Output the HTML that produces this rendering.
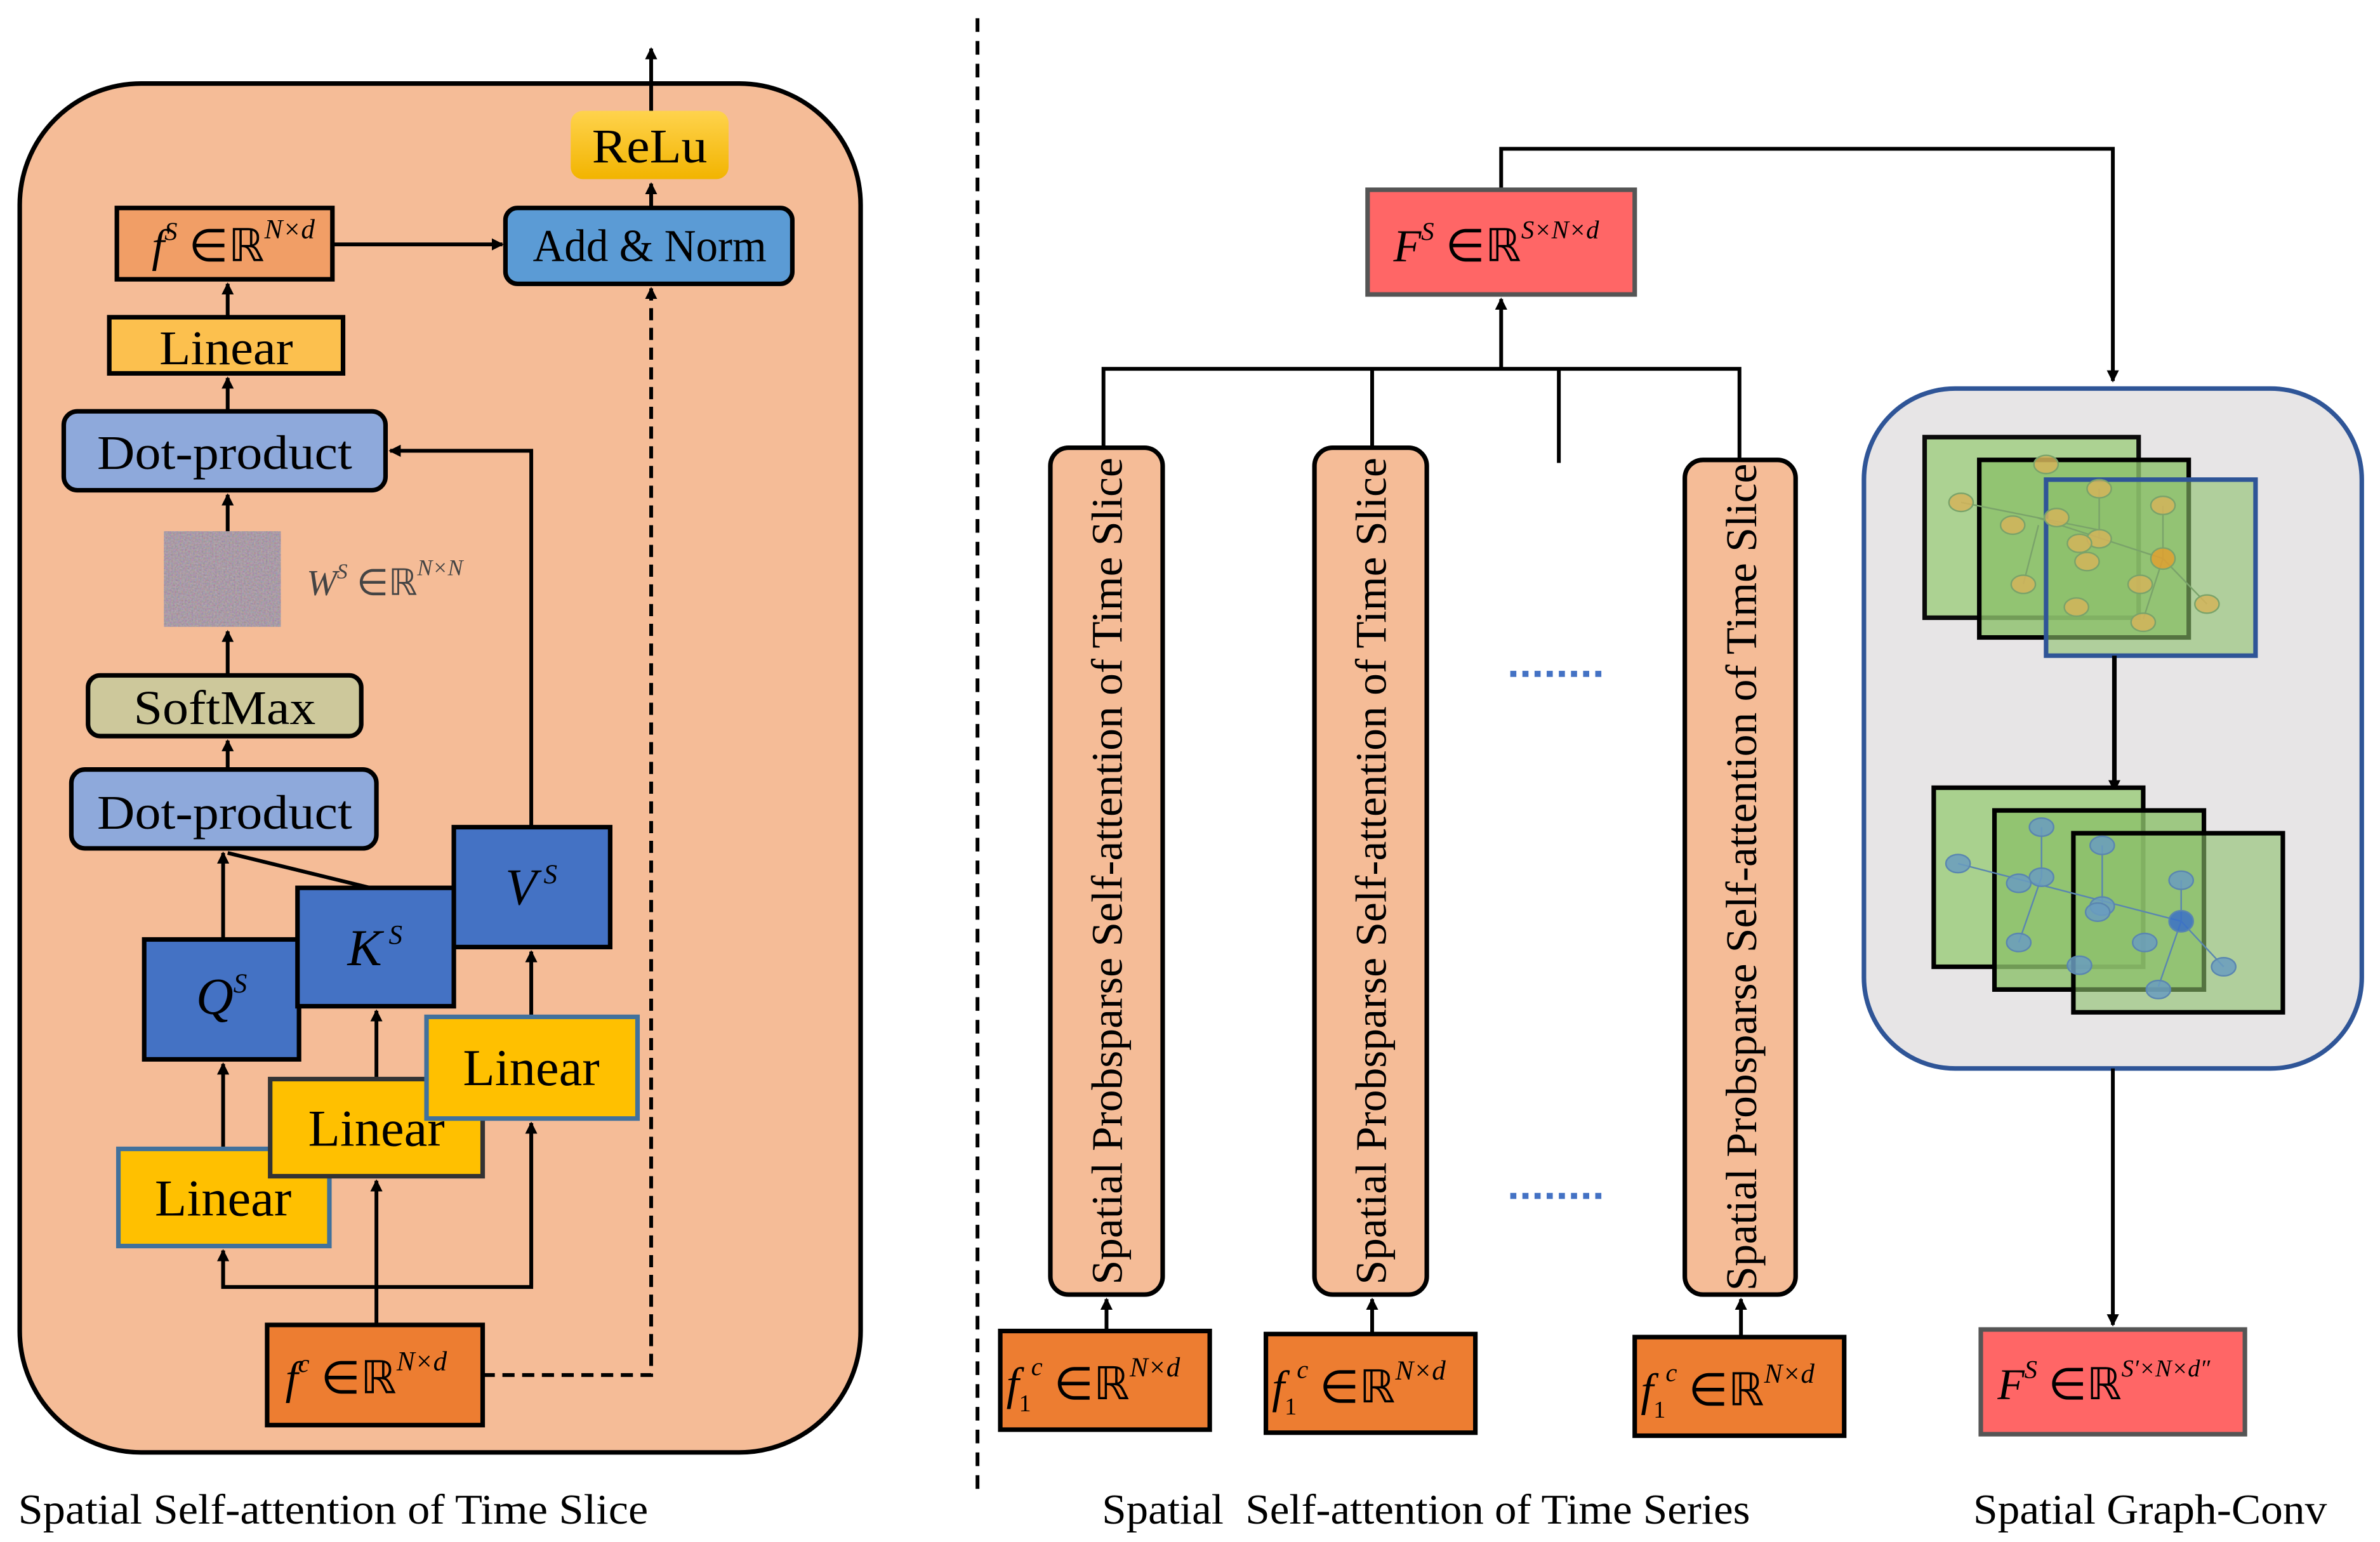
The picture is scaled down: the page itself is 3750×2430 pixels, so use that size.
<!DOCTYPE html>
<html><head><meta charset="utf-8"><style>
html,body{margin:0;padding:0;background:#fff;}
svg{display:block;}
text{font-family:"Liberation Serif","Times New Roman",serif;}
.m{font-style:italic;}
</style></head><body>
<svg width="3750" height="2430" viewBox="0 0 1568 1016" xmlns="http://www.w3.org/2000/svg">
<defs>
<marker id="a" markerWidth="8" markerHeight="8" refX="7" refY="4" orient="auto" markerUnits="userSpaceOnUse"><path d="M0,0 L8,4 L0,8 z" fill="#000"/></marker>
<filter id="noise" x="0" y="0" width="100%" height="100%"><feTurbulence type="fractalNoise" baseFrequency="0.9" numOctaves="2" seed="3"/><feColorMatrix type="matrix" values="1 0 0 0 0  0 1 0 0 0  0 0 1 0 0  0 0 0 0 1"/></filter>
<linearGradient id="g1" x1="0" y1="0" x2="0" y2="1"><stop offset="0" stop-color="#FFD34D"/><stop offset="1" stop-color="#F2B400"/></linearGradient>
</defs>
<rect width="1568" height="1016" fill="#fff"/>
<g lengthAdjust="spacingAndGlyphs">
<!-- Left panel -->
<rect x="13" y="55" width="554" height="902" rx="80" fill="#F5BC97" stroke="#000" stroke-width="3"/>
<line x1="429" y1="73" x2="429" y2="32" stroke="#000" stroke-width="2.5" marker-end="url(#a)"/>
<rect x="376" y="73" width="104" height="45" rx="8" fill="url(#g1)"/>
<text x="428" y="107" font-size="32" text-anchor="middle" textLength="76" lengthAdjust="spacingAndGlyphs">ReLu</text>
<line x1="429" y1="137" x2="429" y2="121" stroke="#000" stroke-width="2.5" marker-end="url(#a)"/>
<rect x="333" y="137" width="189" height="50" rx="8" fill="#5B9BD5" stroke="#000" stroke-width="3"/>
<text x="428" y="172" font-size="30" text-anchor="middle" textLength="154" lengthAdjust="spacingAndGlyphs">Add &amp; Norm</text>
<rect x="77" y="137" width="142" height="47" fill="#F19E66" stroke="#000" stroke-width="3"/>
<text x="100" y="172" font-size="30" class="m">f<tspan dy="-14" font-size="17">S</tspan><tspan dy="14" font-style="normal"> ∈ℝ</tspan><tspan dy="-15" font-size="18">N×d</tspan></text>
<line x1="219" y1="161" x2="331" y2="161" stroke="#000" stroke-width="2.5" marker-end="url(#a)"/>
<rect x="72" y="209" width="154" height="37" fill="#FCC04E" stroke="#000" stroke-width="3"/>
<text x="149" y="240" font-size="32" text-anchor="middle" textLength="88" lengthAdjust="spacingAndGlyphs">Linear</text>
<line x1="150" y1="209" x2="150" y2="187" stroke="#000" stroke-width="2.5" marker-end="url(#a)"/>
<rect x="42" y="271" width="212" height="52" rx="9" fill="#8EA9DB" stroke="#000" stroke-width="3"/>
<text x="148" y="309" font-size="32" text-anchor="middle" textLength="168" lengthAdjust="spacingAndGlyphs">Dot-product</text>
<line x1="150" y1="271" x2="150" y2="249" stroke="#000" stroke-width="2.5" marker-end="url(#a)"/>
<rect x="108" y="350" width="77" height="63" fill="#A08A9C"/>
<rect x="108" y="350" width="77" height="63" filter="url(#noise)" opacity="0.35"/>
<text x="202" y="392" font-size="24" fill="#444" class="m">W<tspan dy="-11" font-size="14">S</tspan><tspan dy="11" font-style="normal"> ∈ℝ</tspan><tspan dy="-13" font-size="15">N×N</tspan></text>
<line x1="150" y1="350" x2="150" y2="326" stroke="#000" stroke-width="2.5" marker-end="url(#a)"/>
<rect x="58" y="445" width="180" height="40" rx="8" fill="#CDC89B" stroke="#000" stroke-width="3"/>
<text x="148" y="477" font-size="32" text-anchor="middle" textLength="120" lengthAdjust="spacingAndGlyphs">SoftMax</text>
<line x1="150" y1="445" x2="150" y2="416" stroke="#000" stroke-width="2.5" marker-end="url(#a)"/>
<line x1="150" y1="507" x2="150" y2="488" stroke="#000" stroke-width="2.5" marker-end="url(#a)"/>
<rect x="47" y="507" width="201" height="52" rx="9" fill="#8EA9DB" stroke="#000" stroke-width="3"/>
<text x="148" y="546" font-size="32" text-anchor="middle" textLength="168" lengthAdjust="spacingAndGlyphs">Dot-product</text>
<polyline points="350,545 350,297 257,297" fill="none" stroke="#000" stroke-width="2.5" marker-end="url(#a)"/>
<line x1="147" y1="619" x2="147" y2="562" stroke="#000" stroke-width="2.5" marker-end="url(#a)"/>
<line x1="248" y1="586" x2="150" y2="562" stroke="#000" stroke-width="2.5"/>
<rect x="95" y="619" width="102" height="79" fill="#4472C4" stroke="#000" stroke-width="3"/>
<text x="146" y="668" font-size="34" class="m" text-anchor="middle">Q<tspan dy="-14" font-size="18">S</tspan></text>
<rect x="196" y="585" width="103" height="78" fill="#4472C4" stroke="#000" stroke-width="3"/>
<text x="247" y="636" font-size="34" class="m" text-anchor="middle">K<tspan dy="-14" font-size="18"> S</tspan></text>
<rect x="299" y="545" width="103" height="79" fill="#4472C4" stroke="#000" stroke-width="3"/>
<text x="350" y="596" font-size="34" class="m" text-anchor="middle">V<tspan dy="-14" font-size="18"> S</tspan></text>
<line x1="147" y1="757" x2="147" y2="701" stroke="#000" stroke-width="2.5" marker-end="url(#a)"/>
<line x1="248" y1="711" x2="248" y2="666" stroke="#000" stroke-width="2.5" marker-end="url(#a)"/>
<line x1="350" y1="670" x2="350" y2="627" stroke="#000" stroke-width="2.5" marker-end="url(#a)"/>
<rect x="78" y="757" width="139" height="64" fill="#FFC000" stroke="#41719C" stroke-width="3"/>
<text x="147" y="801" font-size="34" text-anchor="middle" textLength="90" lengthAdjust="spacingAndGlyphs">Linear</text>
<rect x="178" y="711" width="140" height="64" fill="#FFC000" stroke="#333" stroke-width="3"/>
<text x="248" y="755" font-size="34" text-anchor="middle" textLength="90" lengthAdjust="spacingAndGlyphs">Linear</text>
<rect x="281" y="670" width="139" height="67" fill="#FFC000" stroke="#41719C" stroke-width="3"/>
<text x="350" y="715" font-size="34" text-anchor="middle" textLength="90" lengthAdjust="spacingAndGlyphs">Linear</text>
<polyline points="147,824 147,848 350,848 350,740" fill="none" stroke="#000" stroke-width="2.5"/>
<line x1="147" y1="848" x2="147" y2="824" stroke="#000" stroke-width="2.5" marker-end="url(#a)"/>
<line x1="350" y1="848" x2="350" y2="740" stroke="#000" stroke-width="2.5" marker-end="url(#a)"/>
<line x1="248" y1="873" x2="248" y2="778" stroke="#000" stroke-width="2.5" marker-end="url(#a)"/>
<rect x="176" y="873" width="142" height="66" fill="#ED7D31" stroke="#000" stroke-width="3"/>
<text x="188" y="918" font-size="30" class="m">f<tspan dy="-14" font-size="17">c</tspan><tspan dy="14" font-style="normal"> ∈ℝ</tspan><tspan dy="-15" font-size="18">N×d</tspan></text>
<polyline points="318,906 429,906 429,190" fill="none" stroke="#000" stroke-width="2.5" stroke-dasharray="8,5" marker-end="url(#a)"/>
<!-- divider -->
<line x1="644" y1="12" x2="644" y2="985" stroke="#000" stroke-width="2.5" stroke-dasharray="9,6"/>
<!-- Right -->
<polyline points="989,125 989,98 1392,98 1392,251" fill="none" stroke="#000" stroke-width="2.5" marker-end="url(#a)"/>
<rect x="901" y="125" width="176" height="69" fill="#FF6666" stroke="#555" stroke-width="3"/>
<text x="918" y="172" font-size="30" class="m">F<tspan dy="-14" font-size="17">S</tspan><tspan dy="14" font-style="normal"> ∈ℝ</tspan><tspan dy="-15" font-size="17">S×N×d</tspan></text>
<polyline points="727,295 727,243 1146,243 1146,303" fill="none" stroke="#000" stroke-width="2.5"/>
<line x1="904" y1="243" x2="904" y2="295" stroke="#000" stroke-width="2.5"/>
<line x1="1027" y1="243" x2="1027" y2="305" stroke="#000" stroke-width="2.5"/>
<line x1="989" y1="243" x2="989" y2="197" stroke="#000" stroke-width="2.5" marker-end="url(#a)"/>
<g stroke="#000" stroke-width="3" fill="#F5BC97">
<rect x="692" y="295" width="74" height="558" rx="12"/>
<rect x="866" y="295" width="74" height="558" rx="12"/>
<rect x="1110" y="303" width="73" height="550" rx="12"/>
</g>
<g font-size="29">
<text transform="translate(739,574) rotate(-90)" text-anchor="middle" textLength="545" lengthAdjust="spacingAndGlyphs">Spatial Probsparse Self-attention of Time Slice</text>
<text transform="translate(913,574) rotate(-90)" text-anchor="middle" textLength="545" lengthAdjust="spacingAndGlyphs">Spatial Probsparse Self-attention of Time Slice</text>
<text transform="translate(1157,578) rotate(-90)" text-anchor="middle" textLength="545" lengthAdjust="spacingAndGlyphs">Spatial Probsparse Self-attention of Time Slice</text>
</g>
<g stroke="#4472C4" stroke-width="4" stroke-dasharray="4,4">
<line x1="995" y1="444" x2="1058" y2="444"/>
<line x1="995" y1="788" x2="1058" y2="788"/>
</g>
<line x1="729" y1="877" x2="729" y2="856" stroke="#000" stroke-width="2.5" marker-end="url(#a)"/>
<line x1="904" y1="879" x2="904" y2="856" stroke="#000" stroke-width="2.5" marker-end="url(#a)"/>
<line x1="1147" y1="881" x2="1147" y2="856" stroke="#000" stroke-width="2.5" marker-end="url(#a)"/>
<g fill="#ED7D31" stroke="#000" stroke-width="3">
<rect x="659" y="877" width="138" height="65"/>
<rect x="834" y="879" width="138" height="65"/>
<rect x="1077" y="881" width="138" height="65"/>
</g>
<g font-size="30" class="m">
<text x="663" y="922">f<tspan dy="8" font-size="16" font-style="normal">1</tspan><tspan dy="-24" font-size="17">c</tspan><tspan dy="16" font-style="normal"> ∈ℝ</tspan><tspan dy="-15" font-size="18">N×d</tspan></text>
<text x="838" y="924">f<tspan dy="8" font-size="16" font-style="normal">1</tspan><tspan dy="-24" font-size="17">c</tspan><tspan dy="16" font-style="normal"> ∈ℝ</tspan><tspan dy="-15" font-size="18">N×d</tspan></text>
<text x="1081" y="926">f<tspan dy="8" font-size="16" font-style="normal">1</tspan><tspan dy="-24" font-size="17">c</tspan><tspan dy="16" font-style="normal"> ∈ℝ</tspan><tspan dy="-15" font-size="18">N×d</tspan></text>
</g>
<!-- Graph panel -->
<rect x="1228" y="256" width="328" height="448" rx="60" fill="#E7E5E6" stroke="#2F5597" stroke-width="3"/>
<g stroke-width="3">
<rect x="1268" y="288" width="141" height="119" fill="#A9D18E" stroke="#000" opacity="0.95"/>
<rect x="1304" y="303" width="138" height="117" fill="#8CC06A" fill-opacity="0.8" stroke="#000"/>
<rect x="1348" y="316" width="138" height="116" fill="#8CC06A" fill-opacity="0.6" stroke="#2F5597"/>
</g>
<g stroke="#7AA36A" stroke-width="1" fill="#D4B45A" fill-opacity="0.85">
<line x1="1292" y1="331" x2="1382" y2="349"/><line x1="1342" y1="341" x2="1425" y2="368"/><line x1="1425" y1="333" x2="1425" y2="368"/><line x1="1425" y1="368" x2="1412" y2="408"/><line x1="1425" y1="368" x2="1454" y2="398"/><line x1="1343" y1="346" x2="1333" y2="385"/><line x1="1383" y1="322" x2="1383" y2="355"/>
<ellipse cx="1292" cy="331" rx="8" ry="6"/><ellipse cx="1326" cy="346" rx="8" ry="6"/><ellipse cx="1348" cy="306" rx="8" ry="6"/><ellipse cx="1355" cy="341" rx="8" ry="6"/>
<ellipse cx="1383" cy="322" rx="8" ry="6"/><ellipse cx="1383" cy="355" rx="8" ry="6"/><ellipse cx="1370" cy="358" rx="8" ry="6"/><ellipse cx="1375" cy="370" rx="8" ry="6"/>
<ellipse cx="1425" cy="333" rx="8" ry="6"/><ellipse cx="1425" cy="368" rx="8" ry="7" fill="#E0A030"/><ellipse cx="1333" cy="385" rx="8" ry="6"/><ellipse cx="1410" cy="385" rx="8" ry="6"/>
<ellipse cx="1368" cy="400" rx="8" ry="6"/><ellipse cx="1412" cy="410" rx="8" ry="6"/><ellipse cx="1454" cy="398" rx="8" ry="6"/>
</g>
<line x1="1393" y1="432" x2="1393" y2="521" stroke="#000" stroke-width="3" marker-end="url(#a)"/>
<g stroke-width="3">
<rect x="1274" y="519" width="138" height="118" fill="#A9D18E" stroke="#000"/>
<rect x="1314" y="534" width="138" height="118" fill="#8CC06A" fill-opacity="0.8" stroke="#000"/>
<rect x="1366" y="549" width="138" height="118" fill="#8CC06A" fill-opacity="0.6" stroke="#000"/>
</g>
<g stroke="#5A86B0" stroke-width="1" fill="#6A9CC0" fill-opacity="0.85">
<line x1="1290" y1="569" x2="1437" y2="607"/><line x1="1437" y1="580" x2="1437" y2="607"/><line x1="1437" y1="607" x2="1465" y2="637"/><line x1="1437" y1="607" x2="1422" y2="650"/><line x1="1345" y1="545" x2="1345" y2="578"/><line x1="1345" y1="578" x2="1330" y2="621"/><line x1="1385" y1="557" x2="1385" y2="597"/>
<ellipse cx="1290" cy="569" rx="8" ry="6"/><ellipse cx="1345" cy="545" rx="8" ry="6"/><ellipse cx="1345" cy="578" rx="8" ry="6"/><ellipse cx="1330" cy="582" rx="8" ry="6"/>
<ellipse cx="1385" cy="557" rx="8" ry="6"/><ellipse cx="1385" cy="597" rx="8" ry="6"/><ellipse cx="1382" cy="601" rx="8" ry="6"/><ellipse cx="1437" cy="580" rx="8" ry="6"/>
<ellipse cx="1437" cy="607" rx="8" ry="7" fill="#3A70C8"/><ellipse cx="1330" cy="621" rx="8" ry="6"/><ellipse cx="1413" cy="621" rx="8" ry="6"/><ellipse cx="1370" cy="636" rx="8" ry="6"/>
<ellipse cx="1465" cy="637" rx="8" ry="6"/><ellipse cx="1422" cy="652" rx="8" ry="6"/>
</g>
<line x1="1392" y1="704" x2="1392" y2="873" stroke="#000" stroke-width="2.5" marker-end="url(#a)"/>
<rect x="1305" y="876" width="174" height="69" fill="#FF6666" stroke="#555" stroke-width="3"/>
<text x="1316" y="922" font-size="29" class="m">F<tspan dy="-14" font-size="17">S</tspan><tspan dy="14" font-style="normal"> ∈ℝ</tspan><tspan dy="-15" font-size="16">S′×N×d″</tspan></text>
<!-- captions -->
<g font-size="28">
<text x="12" y="1004" textLength="415" lengthAdjust="spacingAndGlyphs">Spatial Self-attention of  Time Slice</text>
<text x="726" y="1004" xml:space="preserve" textLength="427" lengthAdjust="spacingAndGlyphs">Spatial  Self-attention of Time Series</text>
<text x="1300" y="1004" textLength="233" lengthAdjust="spacingAndGlyphs">Spatial Graph-Conv</text>
</g>
</g>
</svg>
</body></html>
